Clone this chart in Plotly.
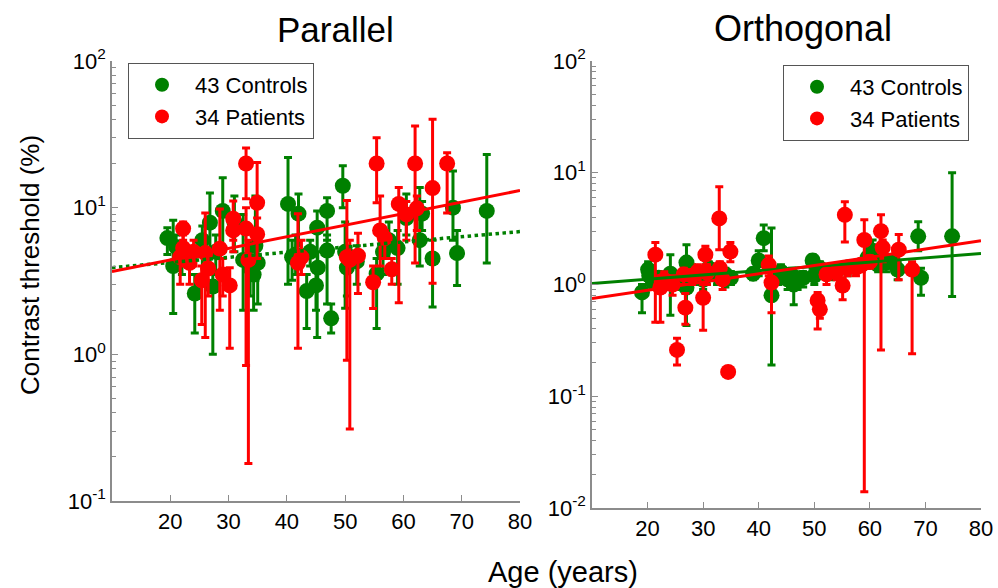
import plotly.graph_objects as go

# ---------------- data ----------------
# Parallel – controls: age, threshold, upper bound, lower bound
par_ctrl_age = [19.5, 20.5, 21.0, 24.2, 25.5, 26.8, 27.3, 27.8, 29.0, 31.0, 32.5, 33.7, 34.3, 35.0, 34.6,
                40.2, 40.9, 42.0, 43.4, 44.0, 45.2, 45.3, 45.0, 46.9, 46.9, 47.6, 49.6, 50.3, 50.0, 55.4,
                56.5, 59.0, 60.5, 62.8, 63.2, 65.0, 68.5, 69.2, 74.3, 22.0, 41.5, 52.0, 57.5]
par_ctrl_val = [6.2, 4.0, 5.4, 2.6, 6.0, 7.9, 2.9, 5.0, 9.5, 8.0, 4.4, 3.9, 3.5, 4.2, 5.5,
                10.6, 4.6, 9.1, 2.7, 5.0, 7.3, 3.9, 2.95, 9.5, 5.1, 1.76, 14.1, 3.9, 5.0, 3.55,
                5.0, 5.3, 8.5, 6.0, 9.1, 4.5, 10.0, 4.9, 9.5, 4.5, 4.8, 4.3, 6.0]
par_ctrl_hi = [7.3, 8.2, 6.5, 3.5, 7.5, 12.6, 4.0, 6.5, 16.0, 12.0, 9.0, 5.0, 4.5, 5.5, 12.0,
               22.0, 6.0, 12.4, 3.5, 6.0, 9.5, 5.0, 4.0, 11.7, 6.5, 2.2, 19.3, 5.0, 8.0, 4.5,
               6.5, 7.0, 12.4, 13.7, 11.0, 6.0, 17.8, 7.0, 23.0, 5.5, 6.5, 5.5, 8.0]
par_ctrl_lo = [4.8, 1.9, 4.5, 1.4, 3.0, 3.6, 1.0, 3.5, 5.0, 5.0, 2.0, 2.5, 2.0, 2.2, 3.2,
               3.0, 3.2, 5.5, 1.5, 4.0, 1.3, 3.0, 2.0, 6.0, 2.2, 1.4, 10.0, 2.5, 2.06, 1.5,
               3.5, 3.0, 6.5, 4.0, 7.0, 2.1, 6.0, 2.95, 4.2, 3.5, 3.5, 3.0, 4.5]

# Parallel – patients
par_pat_age = [22.2, 22.2, 21.7, 23.3, 26.0, 26.5, 25.4, 28.5, 30.2, 30.8, 30.8, 33.0, 33.0, 33.4, 34.9,
               34.9, 41.9, 42.5, 50.3, 50.8, 52.2, 54.8, 55.4, 56.0, 56.8, 58.0, 59.2, 62.0, 62.3, 65.0,
               67.5, 24.0, 29.0, 60.5]
par_pat_val = [7.2, 5.3, 4.6, 4.2, 4.9, 3.85, 3.2, 5.25, 2.95, 8.4, 7.0, 20.0, 7.2, 4.4, 10.8,
               6.6, 4.2, 4.6, 4.6, 4.4, 4.7, 3.1, 20.0, 7.0, 6.2, 3.8, 10.6, 20.0, 9.9, 13.6,
               20.0, 5.0, 3.5, 9.0]
par_pat_hi = [8.0, 6.5, 5.5, 5.0, 9.2, 5.0, 4.0, 9.8, 3.9, 11.1, 9.0, 25.5, 10.0, 6.0, 20.3,
              8.5, 9.1, 6.0, 11.2, 6.0, 6.7, 4.0, 30.0, 12.0, 7.0, 4.5, 13.7, 36.0, 12.0, 40.0,
              23.7, 6.0, 4.5, 11.0]
par_pat_lo = [6.0, 4.0, 3.0, 3.0, 1.3, 2.5, 1.6, 2.0, 1.1, 6.0, 5.0, 11.5, 0.84, 0.18, 6.0,
              4.5, 1.1, 3.5, 0.91, 0.31, 2.6, 2.05, 10.8, 4.0, 4.5, 3.0, 2.25, 4.2, 7.0, 3.05,
              9.2, 4.0, 2.5, 6.0]

# Orthogonal – controls
ort_ctrl_age = [19.0, 20.1, 20.3, 21.0, 24.1, 27.0, 27.0, 28.0, 30.0, 31.0, 32.5, 33.0, 34.0, 35.0, 40.0,
                40.9, 42.3, 43.5, 45.2, 46.3, 47.0, 48.0, 49.7, 50.0, 44.0, 56.0, 57.5, 59.6, 60.5, 62.9,
                65.0, 68.7, 69.2, 74.8, 25.0, 29.0, 39.0, 53.0, 61.5, 64.0, 22.0, 46.0, 51.0]
ort_ctrl_val = [0.85, 1.36, 1.2, 1.05, 1.25, 1.57, 0.94, 1.3, 1.1, 1.4, 1.2, 1.3, 1.23, 1.15, 1.64,
                2.6, 0.8, 1.2, 1.11, 1.0, 1.08, 1.15, 1.64, 1.2, 1.3, 1.42, 1.45, 1.74, 2.0, 1.57,
                1.36, 2.7, 1.15, 2.7, 1.1, 1.2, 1.25, 1.3, 1.5, 1.6, 1.15, 1.2, 1.4]
ort_ctrl_hi = [1.0, 1.6, 1.4, 1.2, 1.85, 2.27, 1.2, 1.5, 1.3, 1.6, 1.4, 1.5, 1.4, 1.3, 2.0,
               3.4, 3.2, 1.4, 1.3, 1.2, 1.3, 1.3, 1.85, 1.4, 1.5, 1.6, 1.6, 2.2, 2.5, 1.8,
               1.6, 3.65, 1.4, 10.0, 1.3, 1.4, 1.4, 1.5, 1.8, 1.8, 1.3, 1.4, 1.6]
ort_ctrl_lo = [0.56, 1.1, 1.0, 0.9, 0.53, 1.2, 0.43, 1.1, 0.9, 1.2, 1.0, 1.1, 0.95, 1.0, 1.2,
               2.0, 0.19, 1.0, 0.9, 0.66, 0.9, 0.95, 1.4, 1.0, 1.1, 1.2, 1.3, 1.4, 1.6, 1.3,
               1.1, 2.0, 0.8, 0.78, 0.9, 1.0, 1.1, 1.1, 1.3, 1.4, 1.0, 1.0, 1.2]

# Orthogonal – patients
ort_pat_age = [21.4, 22.3, 23.0, 25.3, 26.8, 26.5, 28.0, 30.4, 30.0, 30.7, 32.9, 33.5, 34.5, 34.9, 33.0,
               41.8, 42.3, 50.6, 51.0, 52.2, 55.1, 55.5, 56.0, 57.5, 59.0, 62.0, 62.3, 65.2, 67.6, 24.5,
               29.0, 54.0, 58.5, 60.0]
ort_pat_val = [1.85, 0.94, 1.1, 0.26, 0.62, 1.23, 1.2, 1.85, 0.76, 1.28, 3.9, 1.11, 0.165, 1.97, 1.4,
               1.5, 1.04, 0.72, 0.6, 1.23, 0.98, 4.2, 1.42, 1.42, 2.5, 3.0, 2.14, 2.05, 1.36, 1.0,
               1.3, 1.3, 1.5, 1.6]
ort_pat_hi = [2.37, 1.2, 1.3, 0.33, 0.83, 1.4, 1.35, 2.2, 1.0, 1.5, 7.5, 1.3, 0.175, 2.37, 1.6,
              1.8, 1.4, 0.85, 0.75, 1.4, 1.15, 5.5, 1.6, 1.6, 3.8, 4.2, 2.5, 2.8, 1.6, 1.2,
              1.5, 1.5, 1.7, 1.8]
ort_pat_lo = [0.46, 0.46, 0.9, 0.19, 0.44, 1.0, 1.0, 1.5, 0.39, 1.0, 2.05, 0.9, 0.155, 1.6, 1.2,
              1.2, 0.56, 0.4, 0.5, 1.0, 0.73, 2.4, 1.2, 1.2, 0.014, 0.26, 1.6, 1.1, 0.24, 0.8,
              1.1, 1.1, 1.3, 1.4]

# regression lines (end points at ages 10 and 80)
fit_age = [10, 80]
par_ctrl_fit = [3.9, 6.87]
par_pat_fit = [3.67, 13.1]
ort_ctrl_fit = [1.02, 1.89]
ort_pat_fit = [0.75, 2.46]

legend_labels = ["43 Controls", "34 Patients"]
panel_titles = ["Parallel", "Orthogonal"]

GREEN = "#008000"
RED = "#FF0000"
AXC = "#8c8c8c"
FONT = "Liberation Sans, Arial, sans-serif"

fig = go.Figure()


def add_points(age, val, hi, lo, color, xa, ya):
    fig.add_trace(go.Scatter(
        x=age, y=val, mode="markers", xaxis=xa, yaxis=ya, showlegend=False,
        marker=dict(color=color, size=16, line=dict(width=0)),
        error_y=dict(type="data", symmetric=False,
                     array=[h - v for h, v in zip(hi, val)],
                     arrayminus=[v - l for v, l in zip(val, lo)],
                     color=color, thickness=3, width=4)))


add_points(par_ctrl_age, par_ctrl_val, par_ctrl_hi, par_ctrl_lo, GREEN, "x", "y")
add_points(par_pat_age, par_pat_val, par_pat_hi, par_pat_lo, RED, "x", "y")
add_points(ort_ctrl_age, ort_ctrl_val, ort_ctrl_hi, ort_ctrl_lo, GREEN, "x2", "y2")
add_points(ort_pat_age, ort_pat_val, ort_pat_hi, ort_pat_lo, RED, "x2", "y2")

fig.add_trace(go.Scatter(x=fit_age, y=par_ctrl_fit, mode="lines", xaxis="x", yaxis="y", showlegend=False,
                         line=dict(color=GREEN, width=3.5, dash="dot")))
fig.add_trace(go.Scatter(x=fit_age, y=par_pat_fit, mode="lines", xaxis="x", yaxis="y", showlegend=False,
                         line=dict(color=RED, width=3)))
fig.add_trace(go.Scatter(x=fit_age, y=ort_ctrl_fit, mode="lines", xaxis="x2", yaxis="y2", showlegend=False,
                         line=dict(color=GREEN, width=3)))
fig.add_trace(go.Scatter(x=fit_age, y=ort_pat_fit, mode="lines", xaxis="x2", yaxis="y2", showlegend=False,
                         line=dict(color=RED, width=3)))

# legend entries
for lg, xa, ya in [("legend", "x", "y"), ("legend2", "x2", "y2")]:
    for name, color in zip(legend_labels, [GREEN, RED]):
        fig.add_trace(go.Scatter(x=[None], y=[None], mode="markers", name=name, legend=lg,
                                 xaxis=xa, yaxis=ya,
                                 marker=dict(color=color, size=14)))

minor_vals = [m * 10 ** e for e in range(-2, 2) for m in range(2, 10)]

xcommon = dict(range=[10, 80], tickvals=[20, 30, 40, 50, 60, 70, 80], showline=True,
               linecolor=AXC, linewidth=1.5, ticks="inside", ticklen=6, tickcolor=AXC,
               tickfont=dict(size=22, color="black", family=FONT), showgrid=False, zeroline=False,
               automargin=False)
ycommon = dict(type="log", showline=True, linecolor=AXC, linewidth=1.5, ticks="inside",
               ticklen=6, tickcolor=AXC, tickfont=dict(size=22, color="black", family=FONT),
               showgrid=False, zeroline=False, automargin=False,
               minor=dict(tickvals=minor_vals, ticks="inside", ticklen=4, tickcolor=AXC, showgrid=False))

legcommon = dict(xanchor="left", yanchor="top", bordercolor="#555555", borderwidth=1, bgcolor="white",
                 font=dict(size=22, family=FONT, color="black"), itemsizing="trace",
                 itemwidth=56, tracegroupgap=0)

fig.update_layout(
    width=998, height=588, margin=dict(l=0, r=0, t=0, b=0, autoexpand=False),
    paper_bgcolor="white", plot_bgcolor="white",
    font=dict(family=FONT, color="black"),
    xaxis=dict(domain=[112 / 998, 520 / 998], anchor="y", **xcommon),
    xaxis2=dict(domain=[592 / 998, 981 / 998], anchor="y2", **xcommon),
    yaxis=dict(domain=[1 - 501 / 588, 1 - 61 / 588], anchor="x", range=[-1, 2],
               tickvals=[0.1, 1, 10, 100],
               ticktext=["10<sup>-1</sup>", "10<sup>0</sup>", "10<sup>1</sup>", "10<sup>2</sup>"],
               **ycommon),
    yaxis2=dict(domain=[1 - 508 / 588, 1 - 61 / 588], anchor="x2", range=[-2, 2],
                tickvals=[0.01, 0.1, 1, 10, 100],
                ticktext=["10<sup>-2</sup>", "10<sup>-1</sup>", "10<sup>0</sup>", "10<sup>1</sup>", "10<sup>2</sup>"],
                **ycommon),
    legend=dict(x=128 / 998, y=1 - 63 / 588, **legcommon),
    legend2=dict(x=783 / 998, y=1 - 65 / 588, **legcommon),
    annotations=[
        dict(text=panel_titles[0], x=335 / 998, y=1 - 30 / 588, xref="paper", yref="paper",
             showarrow=False, font=dict(size=35, family=FONT), xanchor="center", yanchor="middle"),
        dict(text=panel_titles[1], x=803 / 998, y=1 - 28 / 588, xref="paper", yref="paper",
             showarrow=False, font=dict(size=36, family=FONT), xanchor="center", yanchor="middle"),
        dict(text="Contrast threshold (%)", x=30 / 998, y=1 - 265 / 588, xref="paper", yref="paper",
             showarrow=False, textangle=-90, font=dict(size=26, family=FONT),
             xanchor="center", yanchor="middle"),
        dict(text="Age (years)", x=563 / 998, y=1 - 572 / 588, xref="paper", yref="paper",
             showarrow=False, font=dict(size=29, family=FONT), xanchor="center", yanchor="middle"),
    ],
)

fig.write_html("out.html")
